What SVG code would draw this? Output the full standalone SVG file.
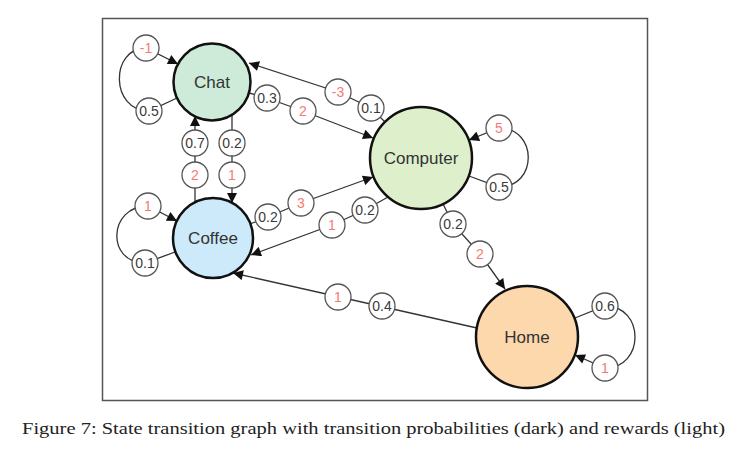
<svg xmlns="http://www.w3.org/2000/svg" width="750" height="454" viewBox="0 0 750 454">
  <style>
    .node { stroke: #111; stroke-width: 2.5; }
    .ntxt { font-family: "Liberation Sans", Arial, sans-serif; font-size: 17px; fill: #333; text-anchor: middle; }
    .edge { fill: none; stroke: #333; stroke-width: 1.3; }
    .lbl circle { fill: #fff; stroke: #555; stroke-width: 1.3; }
    .lbl text { font-family: "Liberation Sans", Arial, sans-serif; font-size: 14px; text-anchor: middle; }
    .p text { fill: #3a3a3a; }
    .r text { fill: #f47b72; }
    .cap { font-family: "Liberation Serif", "Times New Roman", serif; font-size: 17.5px; fill: #222; }
  </style>
  <defs>
    <marker id="arr" viewBox="0 0 10 10" refX="10" refY="5" markerWidth="11" markerHeight="10" markerUnits="userSpaceOnUse" orient="auto">
      <path d="M0,0 L10,5 L0,10 z" fill="#111"/>
    </marker>
  </defs>
  <rect x="0" y="0" width="750" height="454" fill="#fff"/>
  <rect x="102.5" y="18.5" width="545" height="382" fill="none" stroke="#555" stroke-width="1.5"/>

  <g id="connectors">
    <path class="edge" d="M177,98 L149,111 C110,111 110,48 146,48 L178,64" marker-end="url(#arr)"/>
    <path class="edge" d="M175,252 L145,263 C106,263 108,206 148,206 L177,221" marker-end="url(#arr)"/>
    <path class="edge" d="M232,115 L232,203" marker-end="url(#arr)"/>
    <path class="edge" d="M195,203 L195,116" marker-end="url(#arr)"/>
    <path class="edge" d="M249,93 L267,98 L303,111 L373,138" marker-end="url(#arr)"/>
    <path class="edge" d="M385,122 L371,108 L338,92 L249,63" marker-end="url(#arr)"/>
    <path class="edge" d="M250,224 L268,217 L301,203 L373,177" marker-end="url(#arr)"/>
    <path class="edge" d="M388,197 L365,210 L332,225 L251,255" marker-end="url(#arr)"/>
    <path class="edge" d="M443,204 L453,224 L480,254 L505,289" marker-end="url(#arr)"/>
    <path class="edge" d="M477,328 L233,273" marker-end="url(#arr)"/>
    <path class="edge" d="M469,176 L499,187 C538,187 538,128 499,128 L469,140" marker-end="url(#arr)"/>
    <path class="edge" d="M575,318 L605,306 C645,306 645,368 605,368 L575,355" marker-end="url(#arr)"/>

    <g class="lbl r"><circle cx="146" cy="48" r="13"/><text x="146" y="48" dy="0.36em">-1</text></g>
    <g class="lbl p"><circle cx="149" cy="111" r="13"/><text x="149" y="111" dy="0.36em">0.5</text></g>
    <g class="lbl p"><circle cx="267" cy="98" r="13"/><text x="267" y="98" dy="0.36em">0.3</text></g>
    <g class="lbl r"><circle cx="303" cy="111" r="13"/><text x="303" y="111" dy="0.36em">2</text></g>
    <g class="lbl r"><circle cx="338" cy="92" r="13"/><text x="338" y="92" dy="0.36em">-3</text></g>
    <g class="lbl p"><circle cx="371" cy="108" r="13"/><text x="371" y="108" dy="0.36em">0.1</text></g>
    <g class="lbl p"><circle cx="195" cy="143" r="13"/><text x="195" y="143" dy="0.36em">0.7</text></g>
    <g class="lbl r"><circle cx="195" cy="175" r="13"/><text x="195" y="175" dy="0.36em">2</text></g>
    <g class="lbl p"><circle cx="232" cy="143" r="13"/><text x="232" y="143" dy="0.36em">0.2</text></g>
    <g class="lbl r"><circle cx="232" cy="175" r="13"/><text x="232" y="175" dy="0.36em">1</text></g>
    <g class="lbl r"><circle cx="148" cy="206" r="13"/><text x="148" y="206" dy="0.36em">1</text></g>
    <g class="lbl p"><circle cx="145" cy="263" r="13"/><text x="145" y="263" dy="0.36em">0.1</text></g>
    <g class="lbl p"><circle cx="268" cy="217" r="13"/><text x="268" y="217" dy="0.36em">0.2</text></g>
    <g class="lbl r"><circle cx="301" cy="203" r="13"/><text x="301" y="203" dy="0.36em">3</text></g>
    <g class="lbl r"><circle cx="332" cy="225" r="13"/><text x="332" y="225" dy="0.36em">1</text></g>
    <g class="lbl p"><circle cx="365" cy="210" r="13"/><text x="365" y="210" dy="0.36em">0.2</text></g>
    <g class="lbl r"><circle cx="499" cy="128" r="13"/><text x="499" y="128" dy="0.36em">5</text></g>
    <g class="lbl p"><circle cx="499" cy="187" r="13"/><text x="499" y="187" dy="0.36em">0.5</text></g>
    <g class="lbl p"><circle cx="453" cy="224" r="13"/><text x="453" y="224" dy="0.36em">0.2</text></g>
    <g class="lbl r"><circle cx="480" cy="254" r="13"/><text x="480" y="254" dy="0.36em">2</text></g>
    <g class="lbl r"><circle cx="338" cy="297" r="13"/><text x="338" y="297" dy="0.36em">1</text></g>
    <g class="lbl p"><circle cx="382" cy="306" r="13"/><text x="382" y="306" dy="0.36em">0.4</text></g>
    <g class="lbl p"><circle cx="605" cy="306" r="13"/><text x="605" y="306" dy="0.36em">0.6</text></g>
    <g class="lbl r"><circle cx="605" cy="368" r="13"/><text x="605" y="368" dy="0.36em">1</text></g>
  </g>

  <g id="chat">
    <circle class="node" cx="212" cy="82" r="38.5" fill="#cdebd8"/>
    <text class="ntxt" x="212" y="82" dy="0.35em">Chat</text>
  </g>
  <g id="coffee">
    <circle class="node" cx="213" cy="238" r="40" fill="#cdeafb"/>
    <text class="ntxt" x="213" y="238" dy="0.35em">Coffee</text>
  </g>
  <g id="computer">
    <circle class="node" cx="421" cy="158" r="51" fill="#ddf0cb"/>
    <text class="ntxt" x="421" y="158" dy="0.35em">Computer</text>
  </g>
  <g id="home">
    <circle class="node" cx="527" cy="337" r="51" fill="#fdd8ac"/>
    <text class="ntxt" x="527" y="337" dy="0.35em">Home</text>
  </g>

  <text class="cap" x="22" y="434" textLength="703" lengthAdjust="spacingAndGlyphs">Figure 7: State transition graph with transition probabilities (dark) and rewards (light)</text>
</svg>
